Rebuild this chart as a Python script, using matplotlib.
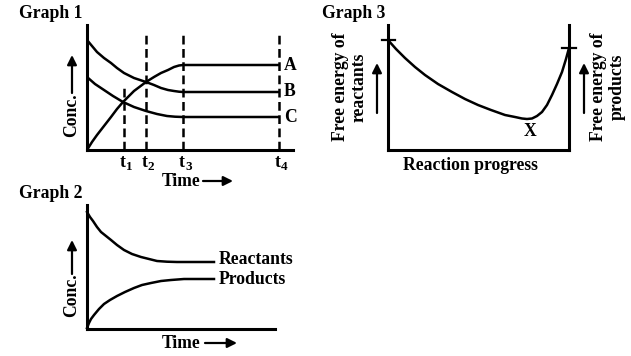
import numpy as np
import matplotlib.pyplot as plt

plt.rcParams['font.family'] = 'Liberation Serif'
plt.rcParams['font.weight'] = 'bold'

# ---- Graph 1 data (time vs conc.)
t_marks = [37, 59, 96, 192]
t_names = ['1', '2', '3', '4']
a_x = [0, 5, 10, 17, 24, 30, 36, 47, 59, 67, 74, 81, 87, 92, 96, 192]
a_y = [0, 8, 15, 24, 33, 41, 48, 59, 68, 73, 77, 80, 83, 84.5, 85, 85]
b_x = [0, 5, 10, 17, 24, 30, 37, 47, 59, 67, 74, 81, 87, 92, 96, 192]
b_y = [110, 104, 98, 92, 87, 82, 77, 72, 68, 65, 62, 60, 59, 58.3, 58, 58]
c_x = [0, 8, 17, 26, 36, 47, 59, 70, 80, 88, 96, 192]
c_y = [73, 66, 60, 54, 48, 43, 39, 36, 34, 33.3, 33, 33]

# ---- Graph 2 data
r_x = [0, 3, 6, 10, 14, 19, 24, 30, 37, 45, 54, 62, 70, 80, 90, 127]
r_y = [117, 112, 108, 102, 97, 93, 89, 84, 79, 75, 72, 70, 68, 67.3, 67, 67]
p_x = [0, 2, 4, 7, 12, 17, 23, 30, 38, 47, 55, 64, 74, 84, 97, 127]
p_y = [1, 6, 10, 14, 20, 25, 29, 33, 37, 41, 44, 46, 48, 49, 50, 50]

# ---- Graph 3 data
g_x = [0, 8, 17, 27, 37, 50, 64, 77, 90, 103, 117, 127, 134, 139, 144, 149, 154, 159, 164, 169, 174, 178, 181]
g_y = [110, 101, 92, 83, 75, 66, 58, 51, 45, 40, 35, 33, 31.5, 31, 31.5, 34, 38, 45, 55, 66, 78, 91, 102]

W, H = 631, 356
fig = plt.figure(figsize=(W / 100, H / 100), dpi=100)
lw_ax = 2.2
lw = 1.8
fs = 12.7


def box(px, py_bottom, w, h):
    return fig.add_axes([px / W, (H - py_bottom) / H, w / W, h / H])


def style(ax, right=False):
    for s in ['top', 'right']:
        ax.spines[s].set_visible(False)
    if right:
        ax.spines['right'].set_visible(True)
    for s in ax.spines.values():
        s.set_linewidth(lw_ax)
        s.set_capstyle('projecting')
    ax.set_xticks([])
    ax.set_yticks([])
    ax.patch.set_alpha(0)


def arrow(ax, x0, y0, x1, y1):
    ax.annotate('', xy=(x1, y1), xytext=(x0, y0),
                arrowprops=dict(arrowstyle='-|>', lw=1.6, color='black',
                                mutation_scale=14, shrinkA=0, shrinkB=0),
                annotation_clip=False)


# Graph 1
ax1 = box(87, 150, 206, 125)
ax1.set_xlim(0, 206)
ax1.set_ylim(0, 125)
style(ax1)
for x, n in zip(t_marks, t_names):
    top = 63 if x == t_marks[0] else 117
    ax1.plot([x, x], [0, top], color='black', lw=1.8, ls=(0, (3.5, 1.8)), clip_on=False)
    ax1.text(x - 4, -17, 't', ha='left', va='baseline', fontsize=fs)
    ax1.text(x + 2, -20, n, ha='left', va='baseline', fontsize=9.5)
for xs, ys, lab in [(a_x, a_y, 'A'), (b_x, b_y, 'B'), (c_x, c_y, 'C')]:
    ax1.plot(xs, ys, color='black', lw=lw, clip_on=False, solid_capstyle='butt')
    ax1.text(197, ys[-1], lab, ha='left', va='center', fontsize=fs)
ax1.text(-15, 35, 'Conc.', rotation=90, ha='center', va='center', fontsize=fs)
arrow(ax1, -15, 57, -15, 95)
ax1.text(94, -31, 'Time', ha='center', va='center', fontsize=fs)
arrow(ax1, 116, -31, 146, -31)
fig.text(19 / W, 1 - 13 / H, 'Graph 1', ha='left', va='center', fontsize=fs)

# Graph 2
ax2 = box(87, 329, 188, 124)
ax2.set_xlim(0, 188)
ax2.set_ylim(0, 124)
style(ax2)
ax2.plot(r_x, r_y, color='black', lw=lw, clip_on=False)
ax2.plot(p_x, p_y, color='black', lw=lw, clip_on=False)
ax2.text(132, 69, 'Reactants', ha='left', va='center', fontsize=fs)
ax2.text(132, 49, 'Products', ha='left', va='center', fontsize=fs)
ax2.text(-15, 34, 'Conc.', rotation=90, ha='center', va='center', fontsize=fs)
arrow(ax2, -15, 55, -15, 89)
ax2.text(94, -14, 'Time', ha='center', va='center', fontsize=fs)
arrow(ax2, 118, -14, 150, -14)
fig.text(19 / W, 1 - 194 / H, 'Graph 2', ha='left', va='center', fontsize=fs)

# Graph 3
ax3 = box(388, 150, 181, 125)
ax3.set_xlim(0, 181)
ax3.set_ylim(0, 125)
style(ax3, right=True)
ax3.plot(g_x, g_y, color='black', lw=lw, clip_on=False)
ax3.plot([-6, 7], [g_y[0], g_y[0]], color='black', lw=1.6, clip_on=False)
ax3.plot([174, 188], [g_y[-1], g_y[-1]], color='black', lw=1.6, clip_on=False)
ax3.text(142, 19, 'X', ha='center', va='center', fontsize=fs)
ax3.text(82, -15, 'Reaction progress', ha='center', va='center', fontsize=fs)
ax3.text(-38, 63, 'Free energy of\nreactants', rotation=90, ha='center', va='center',
         multialignment='center', fontsize=fs, linespacing=1.1)
arrow(ax3, -11, 37, -11, 87)
ax3.text(220, 63, 'Free energy of\nproducts', rotation=90, ha='center', va='center',
         multialignment='center', fontsize=fs, linespacing=1.1)
arrow(ax3, 196, 37, 196, 87)
fig.text(322 / W, 1 - 13 / H, 'Graph 3', ha='left', va='center', fontsize=fs)

fig.savefig('out.png', dpi=100)
